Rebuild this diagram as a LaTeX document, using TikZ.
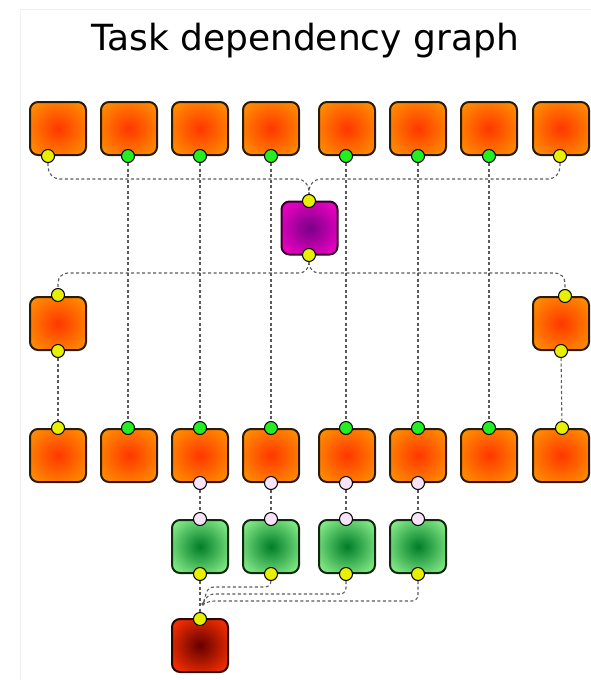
\documentclass[tikz,border=0pt]{standalone}
\usepackage{fontspec}
\newfontfamily\titlefont{DejaVu Sans}
\usetikzlibrary{backgrounds,arrows.meta}
\definecolor{bordc}{HTML}{2A1A08}
\definecolor{lnc}{HTML}{5A5A5A}
\definecolor{ylw}{HTML}{E6F000}
\definecolor{grn}{HTML}{22EE22}
\definecolor{pnk}{HTML}{F8E4F8}
\definecolor{frm}{HTML}{F0F0F0}
\definecolor{oin}{RGB}{255,55,0}
\definecolor{oout}{RGB}{255,140,0}
\definecolor{min}{RGB}{120,0,135}
\definecolor{mout}{RGB}{245,0,200}
\definecolor{gin}{RGB}{0,125,40}
\definecolor{gout}{RGB}{140,240,140}
\definecolor{rin}{RGB}{100,0,0}
\definecolor{rout}{RGB}{255,50,0}
\pgfdeclareradialshading{orsh}{\pgfpointorigin}{color(0bp)=(oin); color(31bp)=(oout); color(50bp)=(oout)}
\pgfdeclareradialshading{mgsh}{\pgfpointorigin}{color(0bp)=(min); color(33bp)=(mout); color(50bp)=(mout)}
\pgfdeclareradialshading{grsh}{\pgfpointorigin}{color(0bp)=(gin); color(33bp)=(gout); color(50bp)=(gout)}
\pgfdeclareradialshading{rdsh}{\pgfpointorigin}{color(0bp)=(rin); color(33bp)=(rout); color(50bp)=(rout)}
\tikzset{
  box/.style={draw=bordc, line width=2pt, rounded corners=8pt, minimum width=56pt, minimum height=53pt, inner sep=0pt},
  obox/.style={box, shading=orsh},
  mbox/.style={box, draw={rgb,255:red,50;green,0;blue,40}, shading=mgsh},
  gbox/.style={box, draw={rgb,255:red,15;green,40;blue,15}, shading=grsh},
  rbox/.style={box, draw={rgb,255:red,40;green,5;blue,0}, shading=rdsh},
  port/.style={circle, draw=black, line width=1pt, minimum size=13pt, inner sep=0pt},
  yc/.style={port, fill=ylw},
  gc/.style={port, fill=grn},
  pc/.style={port, fill=pnk},
  conn/.style={draw=lnc, line width=1.1pt, dash pattern=on 3pt off 2.5pt},
}
\begin{document}
\begin{tikzpicture}[x=1pt,y=-1pt]
\useasboundingbox (0,0) rectangle (591,680);
\draw[frm, line width=1pt] (20,680) -- (20,9) -- (591,9);
\node[font=\titlefont\fontsize{36}{40}\selectfont, anchor=base] (title) at (305,50) {Task dependency graph};

% top row
\foreach \i/\x in {1/58,2/129,3/200,4/271,5/347,6/418,7/489,8/561}
  \node[obox] (t\i) at (\x,128.5) {};
% magenta
\node[mbox] (m) at (309.5,228) {};
% middle
\node[obox] (ml) at (58,323.5) {};
\node[obox] (mr) at (561,323.5) {};
% row 3
\foreach \i/\x in {1/58,2/129,3/200,4/271,5/347,6/418,7/489,8/561}
  \node[obox] (b\i) at (\x,455.5) {};
% green
\foreach \i/\x in {1/200,2/271,3/347,4/418}
  \node[gbox] (g\i) at (\x,546.5) {};
% red
\node[rbox] (r) at (200,645.5) {};

% ports top row
\node[yc] (t1p) at (48,156) {};
\node[yc] (t8p) at (560,156) {};
\foreach \i/\x in {2/128,3/200,4/271,5/346,6/418,7/489}
  \node[gc] (t\i p) at (\x,156) {};
\node[yc] (mt) at (309,201) {};
\node[yc] (mb) at (309,255) {};
\node[yc] (mlt) at (58,295) {};
\node[yc] (mlb) at (58,351) {};
\node[yc] (mrt) at (565,296) {};
\node[yc] (mrb) at (561,351) {};
\node[yc] (b1p) at (58,428) {};
\node[yc] (b8p) at (562,428) {};
\foreach \i/\x in {2/128,3/200,4/271,5/346,6/418,7/489}
  \node[gc] (b\i p) at (\x,428) {};
\foreach \i/\x in {3/200,4/271,5/346,6/418}
  \node[pc] (b\i q) at (\x,483) {};
\foreach \i/\x in {1/200,2/271,3/346,4/418}{
  \node[pc] (g\i t) at (\x,519) {};
  \node[yc] (g\i b) at (\x,574) {};
}
\node[yc] (rt) at (200,619) {};
\coordinate (conv) at (203,604);

\begin{scope}[on background layer]
  \draw[conn, rounded corners=12pt] (t1p.south) -- (t1p.south |- 0,179) -- (mt.north |- 0,179) -- (mt.north);
  \draw[conn, rounded corners=12pt] (t8p.south) -- (t8p.south |- 0,179) -- (mt.north |- 0,179) -- (mt.north);
  \draw[conn, rounded corners=10pt] (mb.south) -- (mb.south |- 0,273) -- (mlt.north |- 0,273) -- (mlt.north);
  \draw[conn, rounded corners=10pt] (mb.south) -- (mb.south |- 0,273) -- (mrt.north |- 0,273) -- (mrt.north);
  \foreach \i in {2,...,7}
    \draw[conn] (t\i p) -- (b\i p);
  \draw[conn] (mlb) -- (b1p);
  \draw[conn] (mrb) -- (b8p);
  \foreach \i/\j in {3/1,4/2,5/3,6/4}
    \draw[conn] (b\i q) -- (g\j t);
  \draw[conn] (g1b) -- (rt);
  \draw[conn, rounded corners=6pt] (g2b.south) -- (g2b.south |- 0,587) -- (208,587) -- (conv);
  \draw[conn, rounded corners=6pt] (g3b.south) -- (g3b.south |- 0,594) -- (208,594) -- (conv);
  \draw[conn, rounded corners=6pt] (g4b.south) -- (g4b.south |- 0,601) -- (209,601) -- (conv);
  \fill[lnc] (conv) circle (1.8pt);
\end{scope}
\end{tikzpicture}
\end{document}
